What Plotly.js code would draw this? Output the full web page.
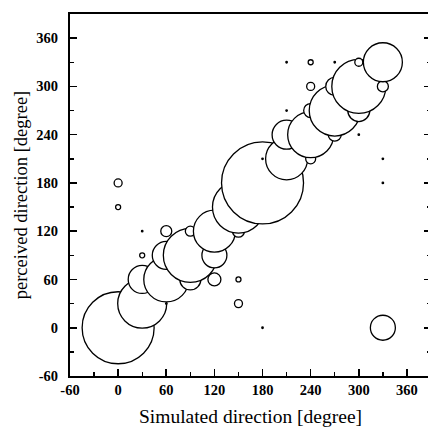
<!DOCTYPE html>
<html>
<head>
<meta charset="utf-8">
<script src="https://cdn.plot.ly/plotly-3.0.1.min.js"></script>
<style>
  html, body { margin: 0; padding: 0; overflow: hidden; background: #fff; }
  #chart { width: 440px; height: 428px; }
</style>
</head>
<body>
<div id="chart"></div>
<script>
// Simulated direction (x), perceived direction (y), bubble diameter (px)
const simulatedDir = [0, 0, 0, 30, 30, 30, 30, 60, 60, 60, 60, 90, 90, 90, 120, 120, 120,
  150, 150, 150, 150, 180, 180, 180, 210, 210, 210, 210, 240, 240, 240, 240, 240,
  270, 270, 270, 270, 300, 300, 300, 300, 330, 330, 330, 330, 330];
const perceivedDir = [0, 150, 180, 30, 60, 90, 120, 30, 60, 90, 120, 60, 90, 120, 60, 90, 120,
  30, 60, 120, 150, 0, 180, 210, 210, 240, 270, 330, 210, 240, 270, 300, 330,
  240, 270, 300, 330, 240, 270, 300, 330, 0, 180, 210, 300, 330];
const bubbleSize = [72, 5, 8, 49, 28, 5, 1.5, 1.5, 45, 28, 11, 21, 54, 10, 13, 25, 42,
  8, 5, 12, 52, 1.5, 82, 1.5, 42, 29, 1.5, 1.5, 10, 46, 14, 8, 5,
  13, 51, 18, 1.5, 1.5, 22, 54, 8, 25, 1.5, 1.5, 11, 39];

const tickVals = [-60, 0, 60, 120, 180, 240, 300, 360];
const tickText = ["-60", "0", "60", "120", "180", "240", "300", "360"];

const fontFamily = 'Liberation Serif, Times New Roman, serif';

const axisCommon = {
  range: [-60, 390],
  tickmode: 'array',
  tickvals: tickVals,
  ticktext: tickText,
  ticks: 'inside',
  ticklen: 7,
  tickwidth: 1.6,
  tickcolor: '#000',
  showline: true,
  linecolor: '#000',
  linewidth: 2,
  showgrid: false,
  zeroline: false,
  tickfont: { family: fontFamily, size: 14.5, color: '#000', weight: 'bold' },
  minor: { tickmode: 'linear', tick0: -60, dtick: 30, ticks: 'inside', ticklen: 4, tickwidth: 1.4, tickcolor: '#000', showgrid: false }
};

const layout = {
  width: 440,
  height: 428,
  margin: { l: 70, r: 9, t: 14, b: 52 },
  paper_bgcolor: '#fff',
  plot_bgcolor: '#fff',
  showlegend: false,
  hovermode: false,
  font: { family: fontFamily, color: '#000' },
  xaxis: Object.assign({}, axisCommon, {
    mirror: true,
    ticklabelstandoff: 0,
    title: { text: 'Simulated direction [degree]', font: { family: fontFamily, size: 19.5, color: '#000' }, standoff: 12 }
  }),
  yaxis: Object.assign({}, axisCommon, {
    mirror: 'allticks',
    ticklabelstandoff: 7,
    title: { text: 'perceived direction [degree]', font: { family: fontFamily, size: 18.5, color: '#000' }, standoff: 4 }
  })
};

const trace = {
  type: 'scatter',
  mode: 'markers',
  x: simulatedDir,
  y: perceivedDir,
  marker: {
    size: bubbleSize,
    sizemode: 'diameter',
    color: '#fff',
    opacity: 1,
    line: { color: '#000', width: 1.3 }
  },
  hoverinfo: 'skip'
};

Plotly.newPlot('chart', [trace], layout, { displayModeBar: false, staticPlot: true });
</script>
</body>
</html>
